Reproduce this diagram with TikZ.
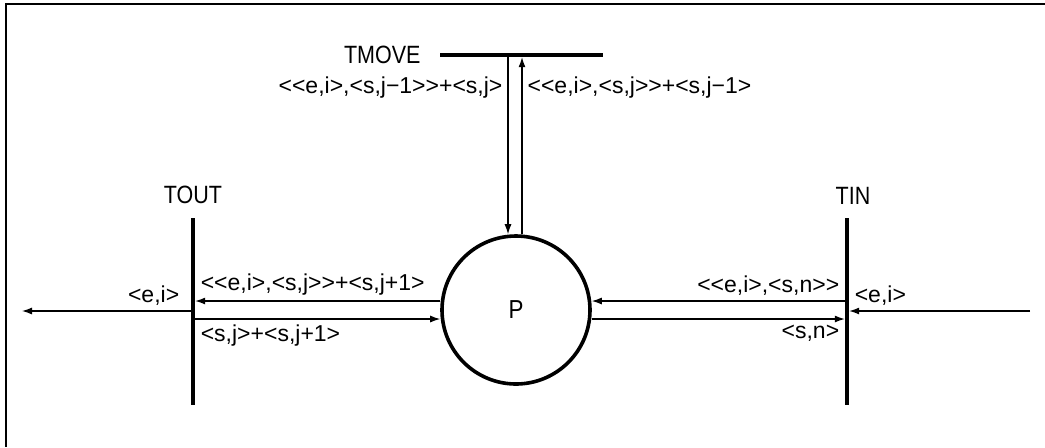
\documentclass[tikz,border=0pt]{standalone}
\usepackage{fontspec}
\setmainfont{Liberation Sans}[Ligatures=TeXOff]
\newfontfamily\tfont{Liberation Sans}[FakeStretch=0.86]
\usetikzlibrary{arrows.meta,positioning}

\begin{document}
\begin{tikzpicture}[x=0.5pt,y=-0.5pt,
		bar/.style={fill,inner sep=0pt,minimum width=1.8pt,minimum height=93.5pt},
		arc/.style={line width=0.6pt,-{Latex[length=5pt,width=3.5pt]}},
		lab/.style={font=\fontsize{11.5}{13}\selectfont,inner sep=2.5pt},
		tname/.style={font=\tfont\fontsize{12.5}{15}\selectfont}]
		\useasboundingbox (0,0) rectangle (1045,447);
		%frame
		\draw[line width=1pt] (1045,4) -- (6,4) -- (6,447);
		%the place and the three transitions
		\node[circle,draw,line width=1.8pt,minimum size=74pt,inner sep=0pt,font=\tfont\fontsize{13}{15}\selectfont] (p) at (516,310) {P};
		\node[bar] (tout) at (193,311) {};
		\node[bar] (tin) at (847,311) {};
		\node[fill,inner sep=0pt,minimum width=81.5pt,minimum height=1.8pt] (tmove) at (521.5,55) {};
		\node[tname,left=6pt of tmove] (tmovel) {TMOVE};
		\node[tname,above=3pt of tout] (toutl) {TOUT};
		\node[tname,above=3pt of tin,xshift=3pt] (tinl) {TIN};
		%arcs to and from TMOVE
		\draw[arc] ([xshift=-4pt]p.north |- tmove.south) -- ([xshift=-4pt]p.north) node[lab,pos=0.17,left] {<<e,i>,<s,j−1>>+<s,j>};
		\draw[arc] ([xshift=3pt]p.north) -- ([xshift=3pt]p.north |- tmove.south) node[lab,pos=0.83,right] {<<e,i>,<s,j>>+<s,j−1>};
		%TOUT side
		\coordinate (outp) at (22,311);
		\draw[arc] ([yshift=4.5pt]p.west) -- ([yshift=4.5pt]p.west -| tout.east) node[lab,pos=1,anchor=south west] {<<e,i>,<s,j>>+<s,j+1>};
		\draw[arc] ([yshift=-4.5pt]p.west -| tout.east) -- ([yshift=-4.5pt]p.west) node[lab,pos=0,anchor=north west] {<s,j>+<s,j+1>};
		\draw[arc] (tout) -- (outp) node[lab,pos=0,anchor=south east,xshift=-3pt] {<e,i>};
		%TIN side
		\coordinate (inp) at (1030,311);
		\draw[arc] ([yshift=4.5pt]p.east -| tin.west) -- ([yshift=4.5pt]p.east) node[lab,pos=0,anchor=south east] {<<e,i>,<s,n>>};
		\draw[arc] ([yshift=-4.5pt]p.east) -- ([yshift=-4.5pt]p.east -| tin.west) node[lab,pos=1,anchor=north east] {<s,n>};
		\draw[arc] (inp) -- (tin) node[lab,pos=1,anchor=south west] {<e,i>};
\end{tikzpicture}
\end{document}
